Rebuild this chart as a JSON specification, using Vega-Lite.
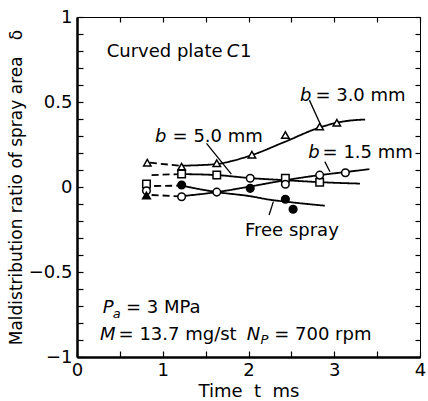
{
  "$schema": "https://vega.github.io/schema/vega-lite/v6.json",
  "width": 343,
  "height": 340,
  "autosize": "none",
  "padding": {"left": 77, "top": 17, "right": 8, "bottom": 44},
  "background": "white",
  "config": {
    "view": {"stroke": null},
    "font": "DejaVu Sans",
    "axis": {
      "domainColor": "black", "tickColor": "black", "labelColor": "black", "titleColor": "black",
      "labelFont": "DejaVu Sans", "titleFont": "DejaVu Sans", "labelFontSize": 18, "titleFontSize": 18,
      "titleFontWeight": "normal", "grid": false, "labelFlush": false, "labelOverlap": false, "tickWidth": 1.2
    }
  },
  "datasets": {
    "pts": [
      {"marker": "tri", "t": 0.82, "d": 0.143},
      {"marker": "tri", "t": 1.22, "d": 0.12},
      {"marker": "tri", "t": 1.63, "d": 0.14},
      {"marker": "tri", "t": 2.04, "d": 0.19},
      {"marker": "tri", "t": 2.43, "d": 0.306},
      {"marker": "tri", "t": 2.83, "d": 0.355},
      {"marker": "tri", "t": 3.03, "d": 0.378},
      {"marker": "sq", "t": 0.81, "d": 0.018},
      {"marker": "sq", "t": 1.22, "d": 0.076},
      {"marker": "sq", "t": 1.63, "d": 0.07},
      {"marker": "sq", "t": 2.43, "d": 0.051},
      {"marker": "sq", "t": 2.83, "d": 0.028},
      {"marker": "circ", "t": 0.81, "d": -0.022},
      {"marker": "circ", "t": 1.22, "d": -0.057},
      {"marker": "circ", "t": 1.63, "d": -0.03},
      {"marker": "circ", "t": 2.02, "d": 0.051},
      {"marker": "circ", "t": 2.43, "d": 0.016},
      {"marker": "circ", "t": 2.83, "d": 0.07},
      {"marker": "circ", "t": 3.13, "d": 0.084},
      {"marker": "dot", "t": 1.22, "d": 0.012},
      {"marker": "dot", "t": 2.02, "d": -0.008},
      {"marker": "dot", "t": 2.43, "d": -0.072},
      {"marker": "dot", "t": 2.52, "d": -0.131},
      {"marker": "ftri", "t": 0.81, "d": -0.05}
    ],
    "fits": [
      {"series": "b3", "part": "dash", "t": 0.85, "d": 0.143},
      {"series": "b3", "part": "dash", "t": 1.2, "d": 0.125},
      {"series": "b3", "part": "solid", "t": 1.2, "d": 0.125},
      {"series": "b3", "part": "solid", "t": 1.63, "d": 0.135},
      {"series": "b3", "part": "solid", "t": 1.82, "d": 0.155},
      {"series": "b3", "part": "solid", "t": 2.04, "d": 0.188},
      {"series": "b3", "part": "solid", "t": 2.43, "d": 0.267},
      {"series": "b3", "part": "solid", "t": 2.83, "d": 0.35},
      {"series": "b3", "part": "solid", "t": 3.1, "d": 0.385},
      {"series": "b3", "part": "solid", "t": 3.36, "d": 0.397},
      {"series": "b5", "part": "dash", "t": 0.87, "d": 0.07},
      {"series": "b5", "part": "dash", "t": 1.2, "d": 0.076},
      {"series": "b5", "part": "solid", "t": 1.2, "d": 0.076},
      {"series": "b5", "part": "solid", "t": 1.63, "d": 0.07},
      {"series": "b5", "part": "solid", "t": 2.03, "d": 0.052},
      {"series": "b5", "part": "solid", "t": 2.43, "d": 0.04},
      {"series": "b5", "part": "solid", "t": 2.85, "d": 0.028},
      {"series": "b5", "part": "solid", "t": 3.3, "d": 0.02},
      {"series": "b15", "part": "dash", "t": 0.87, "d": -0.047},
      {"series": "b15", "part": "dash", "t": 1.2, "d": -0.055},
      {"series": "b15", "part": "solid", "t": 1.2, "d": -0.055},
      {"series": "b15", "part": "solid", "t": 1.63, "d": -0.03},
      {"series": "b15", "part": "solid", "t": 2.03, "d": 0.004},
      {"series": "b15", "part": "solid", "t": 2.43, "d": 0.04},
      {"series": "b15", "part": "solid", "t": 2.83, "d": 0.07},
      {"series": "b15", "part": "solid", "t": 3.13, "d": 0.088},
      {"series": "b15", "part": "solid", "t": 3.41, "d": 0.105},
      {"series": "free", "part": "dash", "t": 0.9, "d": 0.006},
      {"series": "free", "part": "dash", "t": 1.18, "d": 0.008},
      {"series": "free", "part": "solid", "t": 1.2, "d": 0.01},
      {"series": "free", "part": "solid", "t": 1.63, "d": -0.03},
      {"series": "free", "part": "solid", "t": 2.03, "d": -0.055},
      {"series": "free", "part": "solid", "t": 2.25, "d": -0.075},
      {"series": "free", "part": "solid", "t": 2.43, "d": -0.086},
      {"series": "free", "part": "solid", "t": 2.89, "d": -0.11}
    ],
    "leaders": [
      {"label": "b3", "t": 2.71, "d": 0.511},
      {"label": "b3", "t": 2.85, "d": 0.356},
      {"label": "b5", "t": 1.51, "d": 0.257},
      {"label": "b5", "t": 1.8, "d": 0.076},
      {"label": "b15", "t": 2.89, "d": 0.149},
      {"label": "b15", "t": 2.95, "d": 0.09},
      {"label": "free", "t": 2.29, "d": -0.086},
      {"label": "free", "t": 2.24, "d": -0.165}
    ],
    "normalText": [
      {"text": "Curved plate", "t": 0.346, "d": 0.766},
      {"text": "1", "t": 1.9, "d": 0.766},
      {"text": "= 3.0 mm", "t": 2.78, "d": 0.508},
      {"text": "= 5.0 mm", "t": 1.115, "d": 0.263},
      {"text": "= 1.5 mm", "t": 2.864, "d": 0.169},
      {"text": "Free spray", "t": 1.959, "d": -0.288},
      {"text": "= 3 MPa", "t": 0.571, "d": -0.743},
      {"text": "= 13.7 mg/st", "t": 0.485, "d": -0.9},
      {"text": "= 700 rpm", "t": 2.3, "d": -0.9}
    ],
    "italicText": [
      {"text": "C", "t": 1.746, "d": 0.766},
      {"text": "b", "t": 2.6, "d": 0.508},
      {"text": "b", "t": 0.91, "d": 0.263},
      {"text": "b", "t": 2.697, "d": 0.169},
      {"text": "P", "t": 0.3, "d": -0.743},
      {"text": "M", "t": 0.268, "d": -0.9},
      {"text": "N", "t": 1.98, "d": -0.9}
    ],
    "subText": [
      {"text": "a", "t": 0.417, "d": -0.772},
      {"text": "P", "t": 2.14, "d": -0.925}
    ]
  },
  "layer": [
    {
      "data": {"name": "pts"},
      "mark": {"type": "point", "opacity": 0},
      "encoding": {
        "x": {"field": "t", "type": "quantitative", "scale": {"domain": [0, 4], "nice": false},
          "axis": {"orient": "bottom", "values": [0, 0.5, 1, 1.5, 2, 2.5, 3, 3.5, 4],
            "labelExpr": "datum.value % 1 == 0 ? datum.label : ''", "format": "~g",
            "tickSize": -6, "domainWidth": 2.5, "labelPadding": 10,
            "title": "Time\u00a0\u00a0t\u00a0\u00a0ms", "titlePadding": 3}},
        "y": {"field": "d", "type": "quantitative", "scale": {"domain": [-1, 1], "nice": false},
          "axis": {"orient": "left",
            "values": [-1, -0.9, -0.8, -0.7, -0.6, -0.5, -0.4, -0.3, -0.2, -0.1, 0, 0.1, 0.2, 0.3, 0.4, 0.5, 0.6, 0.7, 0.8, 0.9, 1],
            "labelExpr": "abs(datum.value*2 - round(datum.value*2)) < 0.001 ? format(datum.value, '~g') : ''",
            "tickSize": -6, "domainWidth": 2.5, "labelPadding": 11,
            "title": "Maldistribution ratio of spray area\u00a0\u00a0\u00a0δ", "titleFontSize": 17, "titlePadding": 3}}
      }
    },
    {
      "data": {"name": "pts"},
      "mark": {"type": "point", "opacity": 0},
      "encoding": {
        "x": {"field": "t", "type": "quantitative",
          "axis": {"orient": "top", "values": [0, 0.5, 1, 1.5, 2, 2.5, 3, 3.5, 4], "labels": false,
            "tickSize": -5, "domainWidth": 1, "title": null}},
        "y": {"field": "d", "type": "quantitative",
          "axis": {"orient": "right",
            "values": [-1, -0.9, -0.8, -0.7, -0.6, -0.5, -0.4, -0.3, -0.2, -0.1, 0, 0.1, 0.2, 0.3, 0.4, 0.5, 0.6, 0.7, 0.8, 0.9, 1],
            "labels": false, "tickSize": -5, "domainWidth": 1, "title": null}}
      }
    },
    {
      "data": {"name": "fits"},
      "mark": {"type": "line", "color": "black", "strokeWidth": 1.8, "interpolate": "monotone"},
      "encoding": {
        "x": {"field": "t", "type": "quantitative", "axis": null},
        "y": {"field": "d", "type": "quantitative", "axis": null},
        "detail": {"field": "series"},
        "strokeDash": {"field": "part", "type": "nominal", "scale": {"domain": ["dash", "solid"], "range": [[7, 4], [1, 0]]}, "legend": null},
        "order": {"field": "t", "type": "quantitative"}
      }
    },
    {
      "data": {"name": "leaders"},
      "mark": {"type": "line", "color": "black", "strokeWidth": 1.3},
      "encoding": {
        "x": {"field": "t", "type": "quantitative", "axis": null},
        "y": {"field": "d", "type": "quantitative", "axis": null},
        "detail": {"field": "label"}
      }
    },
    {
      "data": {"name": "pts"},
      "mark": {"type": "point", "filled": true, "opacity": 1, "stroke": "black", "strokeWidth": 1.5},
      "encoding": {
        "x": {"field": "t", "type": "quantitative", "axis": null},
        "y": {"field": "d", "type": "quantitative", "axis": null},
        "shape": {"field": "marker", "type": "nominal", "scale": {"domain": ["tri", "sq", "circ", "dot", "ftri"], "range": ["triangle-up", "square", "circle", "circle", "triangle-up"]}, "legend": null},
        "fill": {"field": "marker", "type": "nominal", "scale": {"domain": ["tri", "sq", "circ", "dot", "ftri"], "range": ["white", "white", "white", "black", "black"]}, "legend": null},
        "size": {"field": "marker", "type": "nominal", "scale": {"domain": ["tri", "sq", "circ", "dot", "ftri"], "range": [55, 60, 55, 22, 30]}, "legend": null}
      }
    },
    {
      "data": {"name": "normalText"},
      "mark": {"type": "text", "align": "left", "baseline": "alphabetic", "fontSize": 18, "font": "DejaVu Sans", "color": "black"},
      "encoding": {
        "x": {"field": "t", "type": "quantitative", "axis": null},
        "y": {"field": "d", "type": "quantitative", "axis": null},
        "text": {"field": "text"}
      }
    },
    {
      "data": {"name": "italicText"},
      "mark": {"type": "text", "align": "left", "baseline": "alphabetic", "fontSize": 18, "fontStyle": "italic", "font": "DejaVu Sans", "color": "black"},
      "encoding": {
        "x": {"field": "t", "type": "quantitative", "axis": null},
        "y": {"field": "d", "type": "quantitative", "axis": null},
        "text": {"field": "text"}
      }
    },
    {
      "data": {"name": "subText"},
      "mark": {"type": "text", "align": "left", "baseline": "alphabetic", "fontSize": 13, "fontStyle": "italic", "font": "DejaVu Sans", "color": "black"},
      "encoding": {
        "x": {"field": "t", "type": "quantitative", "axis": null},
        "y": {"field": "d", "type": "quantitative", "axis": null},
        "text": {"field": "text"}
      }
    }
  ],
  "resolve": {"axis": {"x": "independent", "y": "independent"}}
}
